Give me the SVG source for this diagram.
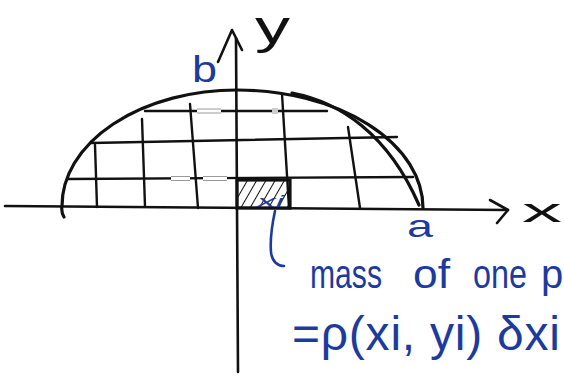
<svg xmlns="http://www.w3.org/2000/svg" width="564" height="378" viewBox="0 0 564 378">
<style>
.ink{fill:none;stroke:#111;stroke-width:2.6;stroke-linecap:round;stroke-linejoin:round}
.curve{fill:none;stroke:#111;stroke-width:3.2;stroke-linecap:round}
.grid{fill:none;stroke:#111;stroke-width:2.4;stroke-linecap:round}
.blue{fill:#1d3a9e;font-family:"Liberation Sans",Arial,sans-serif}
.black{fill:#111;font-family:"Liberation Sans",Arial,sans-serif}
.gap{fill:#fff;stroke:none}
.gapl{stroke:#9a9a9a;stroke-width:1}
</style>
<defs>
<pattern id="hatch" patternUnits="userSpaceOnUse" width="8" height="8" patternTransform="rotate(30)">
<line x1="0" y1="-1" x2="0" y2="9" stroke="#111" stroke-width="2"/>
</pattern>
</defs>
<rect width="564" height="378" fill="#fff"/>
<g id="region">
<path class="curve" d="M64 217 Q61 212 62 206 A175 116 0 0 1 237 90 A186 118 0 0 1 423 208"/>
<path class="curve" d="M292 93 C340 102 388 134 419 205" stroke-width="2.6"/>
</g>
<g id="grid">
<path class="grid" d="M145 111 L327 111"/>
<path class="grid" d="M91 143 L397 137"/>
<path class="grid" d="M68 179 L413 177"/>
<path class="grid" d="M95 145 L97 207"/>
<path class="grid" d="M142 119 L145 206"/>
<path class="grid" d="M190 104 L198 208"/>
<path class="grid" d="M282 94 L289 208"/>
<path class="grid" d="M348 127 L360 208"/>
</g>
<g id="artifacts">
<rect class="gap" x="197" y="108.5" width="24" height="5"/>
<path class="gapl" d="M197 109 H221 M197 113 H221"/>
<rect class="gap" x="272" y="108.5" width="6" height="5"/>
<path class="gapl" d="M272 109 H278 M272 111 H278 M272 113 H278"/>
<rect class="gap" x="171" y="176" width="19" height="5"/>
<path class="gapl" d="M171 176.5 H190 M171 180.5 H190"/>
<rect class="gap" x="203" y="176" width="24" height="5"/>
<path class="gapl" d="M203 176.5 H227 M203 180.5 H227"/>
</g>
<g id="cell">
<rect x="237" y="180" width="53" height="28" fill="url(#hatch)" stroke="#111" stroke-width="3.2"/>
<text class="blue" x="257" y="207" font-size="17" font-style="italic" textLength="27" lengthAdjust="spacingAndGlyphs">xi</text>
</g>
<g id="axes">
<path class="ink" d="M5 206 L508 210"/>
<path class="ink" d="M490 200 L508 210 L497 223"/>
<path class="ink" d="M236 38 L238 372"/>
<path class="ink" d="M218 62 L232 30 L242 50"/>
</g>
<g id="labels">
<text class="black" x="255" y="43" font-size="46" textLength="35" lengthAdjust="spacingAndGlyphs">y</text>
<text class="black" x="522" y="222" font-size="34" textLength="40" lengthAdjust="spacingAndGlyphs">x</text>
<text class="blue" x="192" y="82" font-size="36" textLength="25" lengthAdjust="spacingAndGlyphs">b</text>
<text class="blue" x="407" y="237" font-size="32" textLength="26" lengthAdjust="spacingAndGlyphs">a</text>
</g>
<g id="connectors">
<path d="M275 211 C272 225 270 240 271 252 C272 262 278 266 284 266" fill="none" stroke="#1d3a9e" stroke-width="2.6" stroke-linecap="round"/>
</g>
<g id="note">
<text class="blue" x="310" y="288" font-size="40" textLength="72" lengthAdjust="spacingAndGlyphs">mass</text>
<text class="blue" x="413" y="288" font-size="40" textLength="37" lengthAdjust="spacingAndGlyphs">of</text>
<text class="blue" x="473" y="288" font-size="40" textLength="54" lengthAdjust="spacingAndGlyphs">one</text>
<text class="blue" x="541" y="288" font-size="40">p</text>
<text class="blue" x="292" y="350" font-size="48" textLength="268">=ρ(xi, yi) δxi</text>
</g>
</svg>
